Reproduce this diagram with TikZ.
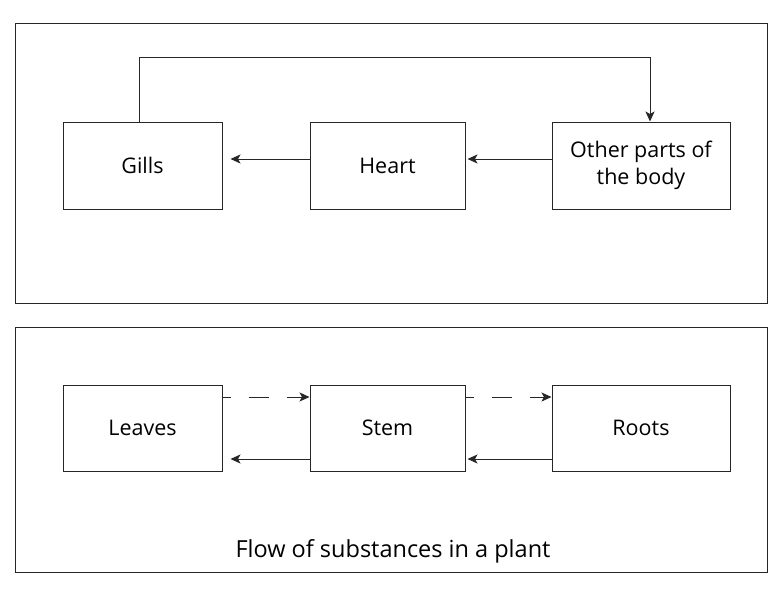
\documentclass[tikz,border=0pt]{standalone}
\usepackage{fontspec}
\setmainfont{Open Sans}
\usetikzlibrary{arrows.meta}
\begin{document}
\begin{tikzpicture}[x=1pt,y=-1pt,
  frame/.style={draw=black!85,line width=1pt},
  box/.style={draw=black!85,line width=1pt,minimum height=87pt,align=center,font=\fontsize{21.5}{27}\selectfont,inner sep=0pt},
  conn/.style={draw=black!85,line width=1pt,-{Stealth[length=10pt,width=9pt,inset=2.5pt]}},
  dconn/.style={conn,dash pattern=on 20pt off 18pt,dash phase=12pt}]
\useasboundingbox (0,0) rectangle (783,597);
\fill[white] (0,0) rectangle (783,597);
\draw[frame] (15,23) rectangle (767,303);
\draw[frame] (15,327) rectangle (767,572);
\node[box,minimum width=159pt] (gills) at (142.5,165.5) {Gills};
\node[box,minimum width=155pt] (heart) at (387.5,165.5) {Heart};
\node[box,minimum width=178pt] (other) at (641,165.5) {Other parts of\\the body};
\node[box,minimum width=159pt,minimum height=86pt] (leaves) at (142.5,428) {Leaves};
\node[box,minimum width=155pt,minimum height=86pt] (stem) at (387.5,428) {Stem};
\node[box,minimum width=178pt,minimum height=86pt] (roots) at (641,428) {Roots};
\draw[conn] (heart.west |- 0,159) -- ([xshift=8pt]gills.east |- 0,159);
\draw[conn] (other.west |- 0,159) -- ([xshift=2pt]heart.east |- 0,159);
\draw[conn] (gills.north -| 139,0) -- (139,57) -- (650,57) -- (other.north -| 650,0);
\draw[dconn] (leaves.east |- 0,397) -- (stem.west |- 0,397);
\draw[dconn] (stem.east |- 0,397) -- (roots.west |- 0,397);
\draw[conn] (stem.west |- 0,459) -- ([xshift=8pt]leaves.east |- 0,459);
\draw[conn] (roots.west |- 0,459) -- ([xshift=2pt]stem.east |- 0,459);
\node[font=\fontsize{23.5}{28}\selectfont] (cap) at (393,551) {Flow of substances in a plant};
\end{tikzpicture}
\end{document}
